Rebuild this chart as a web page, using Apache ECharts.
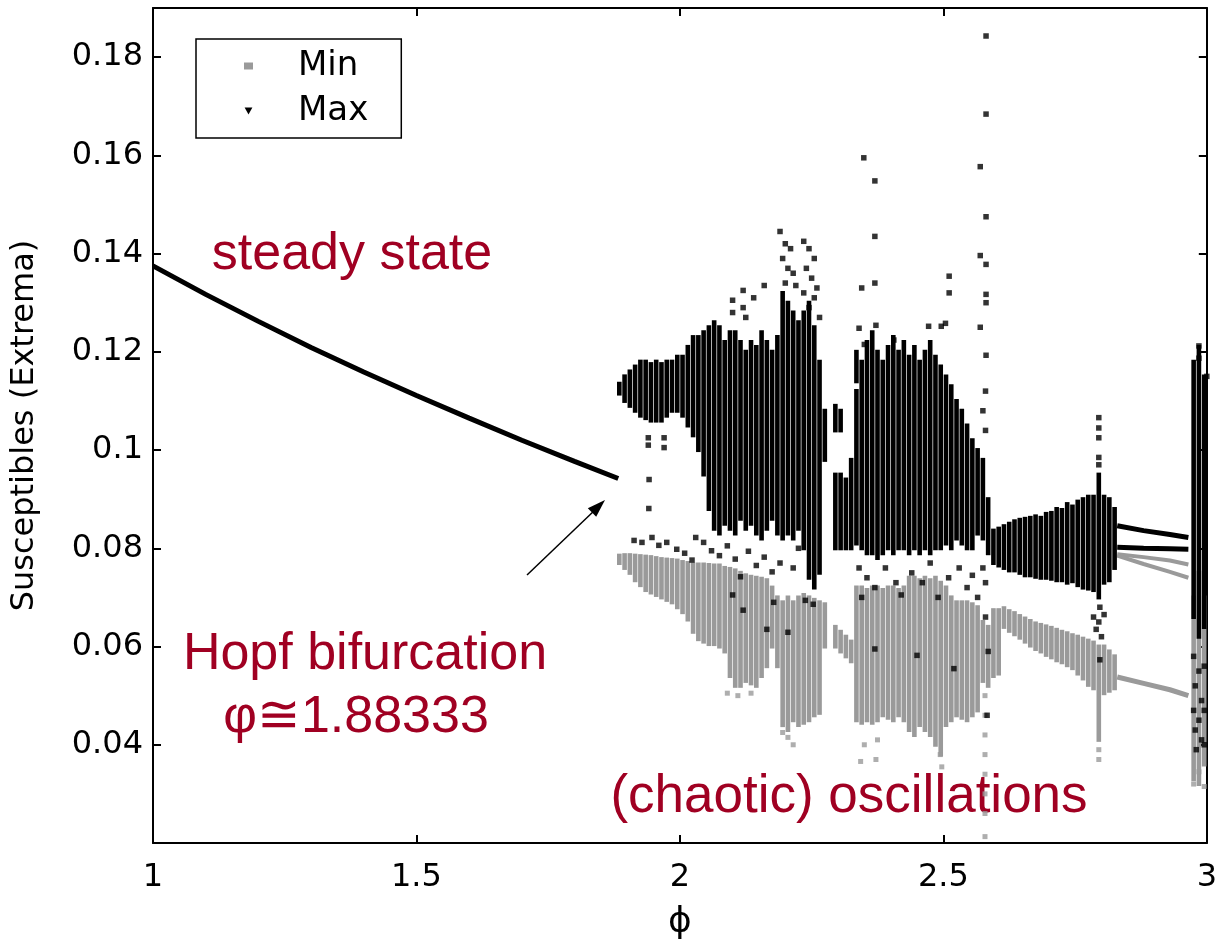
<!DOCTYPE html>
<html>
<head>
<meta charset="utf-8">
<script src="https://cdn.jsdelivr.net/npm/echarts@6/dist/echarts.min.js"></script>
<style>html,body{margin:0;padding:0;background:#fff;}#chart{width:1220px;height:946px;}</style>
</head>
<body>
<div id="chart"></div>
<script>
// ---- data ----
const xTicks = [1, 1.5, 2, 2.5, 3];
const yTicks = [0.04, 0.06, 0.08, 0.1, 0.12, 0.14, 0.16, 0.18];

// steady state branch (min = max)
const steadyX = [1.0, 1.1, 1.2, 1.3, 1.4, 1.5, 1.6, 1.7, 1.8, 1.883];
const steadyY = [0.1375, 0.1317, 0.1262, 0.1209, 0.1159, 0.1111, 0.1065, 0.1020, 0.0977, 0.0942];

// dense columns of maxima: [phi, low, high]
const maxCols = [
 [1.885,0.1115,0.1135],[1.895,0.110,0.115],[1.905,0.109,0.116],[1.915,0.108,0.117],[1.925,0.107,0.118],
 [1.935,0.1065,0.118],[1.945,0.106,0.1175],[1.955,0.106,0.118],[1.965,0.106,0.1175],[1.975,0.107,0.118],
 [1.985,0.108,0.118],[1.995,0.108,0.119],[2.005,0.107,0.119],[2.015,0.105,0.121],[2.025,0.103,0.123],
 [2.035,0.100,0.123],[2.045,0.095,0.124],[2.055,0.088,0.125],[2.065,0.084,0.126],[2.075,0.083,0.125],
 [2.085,0.085,0.122],[2.095,0.084,0.124],[2.105,0.083,0.124],[2.115,0.086,0.122],[2.125,0.084,0.120],
 [2.135,0.085,0.122],[2.145,0.083,0.121],[2.155,0.082,0.124],[2.165,0.084,0.122],[2.175,0.086,0.120],
 [2.185,0.083,0.123],[2.195,0.082,0.132],[2.205,0.083,0.130],[2.215,0.082,0.128],[2.225,0.084,0.126],
 [2.235,0.080,0.128],[2.245,0.074,0.130],[2.255,0.072,0.125],[2.265,0.075,0.118],[2.275,0.098,0.108],
 [2.295,0.080,0.095],[2.295,0.104,0.109],[2.305,0.080,0.095],[2.305,0.104,0.108],[2.315,0.080,0.094],
 [2.325,0.080,0.098],[2.335,0.081,0.112],[2.335,0.114,0.120],[2.345,0.080,0.118],[2.355,0.079,0.122],
 [2.365,0.079,0.124],[2.375,0.078,0.120],[2.385,0.079,0.118],[2.395,0.080,0.121],[2.405,0.079,0.123],
 [2.415,0.080,0.120],[2.425,0.080,0.122],[2.435,0.079,0.119],[2.445,0.080,0.121],[2.455,0.079,0.118],
 [2.465,0.080,0.120],[2.475,0.079,0.122],[2.485,0.080,0.119],[2.495,0.080,0.117],[2.505,0.081,0.115],
 [2.515,0.080,0.113],[2.525,0.082,0.110],[2.535,0.081,0.108],[2.545,0.080,0.105],[2.555,0.080,0.102],
 [2.565,0.083,0.100],[2.575,0.082,0.098],[2.585,0.079,0.090],
 [2.595,0.0770,0.0836],[2.605,0.0765,0.0840],[2.615,0.0760,0.0845],[2.625,0.0755,0.0850],[2.635,0.0755,0.0855],
 [2.645,0.0750,0.0858],[2.655,0.0745,0.0860],[2.665,0.0745,0.0862],[2.675,0.0742,0.0865],[2.685,0.0740,0.0862],
 [2.695,0.0740,0.0870],[2.705,0.0738,0.0872],[2.715,0.0735,0.0880],[2.725,0.0735,0.0878],[2.735,0.0730,0.0890],
 [2.745,0.0733,0.0885],[2.755,0.0725,0.0895],[2.765,0.0720,0.0900],[2.775,0.0718,0.0905],[2.785,0.0715,0.0905],
 [2.795,0.0700,0.0950],[2.805,0.0730,0.0905],[2.815,0.0735,0.0900],[2.825,0.0760,0.0880],
 [2.975,0.066,0.118],[2.985,0.062,0.121],[2.995,0.064,0.115]
];

// dense columns of minima: [phi, low, high]
const minCols = [
 [1.885,0.0770,0.0785],[1.895,0.0760,0.0786],[1.905,0.0750,0.0786],[1.915,0.0735,0.0785],[1.925,0.0725,0.0784],
 [1.935,0.0715,0.0783],[1.945,0.0710,0.0782],[1.955,0.0705,0.0780],[1.965,0.0700,0.0778],[1.975,0.0695,0.0777],
 [1.985,0.0690,0.0776],[1.995,0.0680,0.0775],[2.005,0.0670,0.0772],[2.015,0.0655,0.0770],[2.025,0.0630,0.0767],
 [2.035,0.0615,0.0767],[2.045,0.0610,0.0767],[2.055,0.0605,0.0766],[2.065,0.0605,0.0765],[2.075,0.0600,0.0765],
 [2.085,0.0590,0.0760],[2.095,0.0540,0.0758],[2.105,0.0520,0.0755],[2.115,0.0520,0.0750],[2.125,0.0530,0.0745],
 [2.135,0.0525,0.0742],[2.145,0.0520,0.0740],[2.155,0.0540,0.0738],[2.165,0.0560,0.0735],[2.175,0.0600,0.0720],
 [2.185,0.0560,0.0700],[2.195,0.0440,0.0690],[2.205,0.0430,0.0700],[2.215,0.0450,0.0690],[2.225,0.0440,0.0700],
 [2.235,0.0445,0.0705],[2.245,0.0450,0.0700],[2.255,0.0460,0.0695],[2.265,0.0465,0.0690],[2.275,0.0600,0.0686],
 [2.295,0.0600,0.0640],[2.305,0.0590,0.0630],[2.315,0.0580,0.0620],[2.325,0.0570,0.0610],[2.335,0.0450,0.0720],
 [2.345,0.0445,0.0720],[2.355,0.0450,0.0715],[2.365,0.0445,0.0720],[2.375,0.0450,0.0720],[2.385,0.0460,0.0715],
 [2.395,0.0455,0.0720],[2.405,0.0450,0.0720],[2.415,0.0460,0.0715],[2.425,0.0450,0.0720],[2.435,0.0430,0.0740],
 [2.445,0.0420,0.0740],[2.455,0.0440,0.0735],[2.465,0.0430,0.0740],[2.475,0.0420,0.0735],[2.485,0.0400,0.0740],
 [2.495,0.0380,0.0730],[2.505,0.0440,0.0720],[2.515,0.0450,0.0700],[2.525,0.0460,0.0690],[2.535,0.0455,0.0690],
 [2.545,0.0450,0.0690],[2.555,0.0460,0.0686],[2.565,0.0470,0.0680],[2.575,0.0530,0.0650],[2.585,0.0520,0.0640],
 [2.595,0.0540,0.0674],[2.605,0.0545,0.0674],
 [2.615,0.0640,0.0678],[2.625,0.0632,0.0672],[2.635,0.0625,0.0668],[2.645,0.0618,0.0662],[2.655,0.0610,0.0657],
 [2.665,0.0602,0.0652],[2.675,0.0595,0.0647],[2.685,0.0590,0.0644],[2.695,0.0583,0.0641],[2.705,0.0578,0.0638],
 [2.715,0.0572,0.0634],[2.725,0.0568,0.0630],[2.735,0.0562,0.0627],[2.745,0.0556,0.0623],[2.755,0.0545,0.0620],
 [2.765,0.0535,0.0616],[2.775,0.0522,0.0612],[2.785,0.0515,0.0608],[2.795,0.0410,0.0600],[2.805,0.0505,0.0600],
 [2.815,0.0510,0.0590],[2.825,0.0515,0.0580],
 [2.975,0.033,0.070],[2.985,0.032,0.075],[2.995,0.036,0.070]
];

// isolated maxima [phi, value]
const maxPts = [
 [1.913,0.0816],[1.928,0.0812],[1.947,0.0822],[1.960,0.0806],[1.975,0.0812],[1.994,0.0798],[2.009,0.0790],[2.023,0.0776],
 [1.9415,0.094],[1.941,0.0881],[1.94,0.1025],[1.94,0.101],[1.97,0.1025],[1.97,0.1005],
 [2.03,0.0822],[2.045,0.0812],[2.06,0.0795],[2.075,0.0785],[2.09,0.0805],[2.105,0.0778],[2.115,0.0742],[2.13,0.0794],
 [2.145,0.0765],[2.16,0.0782],[2.175,0.0752],[2.165,0.0635],[2.178,0.0690],[2.205,0.0629],[2.215,0.0760],[2.238,0.0694],
 [2.253,0.0686],[2.225,0.0800],[2.19,0.0770],[2.12,0.0674],[2.10,0.0705],
 [2.10,0.1305],[2.10,0.128],[2.12,0.1325],[2.12,0.129],[2.125,0.127],[2.16,0.1335],[2.14,0.131],[2.19,0.1445],[2.20,0.142],
 [2.21,0.141],[2.195,0.139],[2.205,0.137],[2.215,0.136],[2.20,0.134],[2.22,0.1335],[2.235,0.1425],[2.245,0.141],[2.255,0.139],
 [2.24,0.137],[2.25,0.135],[2.26,0.133],[2.235,0.132],[2.255,0.131],[2.245,0.129],[2.265,0.127],
 [2.349,0.1595],[2.370,0.1548],[2.370,0.1435],[2.345,0.133],[2.370,0.134],[2.511,0.1354],[2.511,0.132],[2.472,0.1252],
 [2.496,0.1252],[2.581,0.1843],[2.581,0.1684],[2.570,0.1577],[2.581,0.1475],[2.570,0.1396],[2.581,0.1378],[2.581,0.1317],
 [2.581,0.130],[2.570,0.125],[2.581,0.1193],[2.58,0.112],[2.575,0.108],[2.58,0.104],
 [2.34,0.1248],[2.372,0.1254],[2.504,0.1258],[2.35,0.1215],[2.406,0.1224],
 [2.34,0.076],[2.345,0.0700],[2.355,0.0740],[2.37,0.0720],[2.37,0.0595],[2.39,0.0760],[2.41,0.0730],[2.42,0.0705],
 [2.44,0.0750],[2.45,0.0582],[2.46,0.0730],[2.475,0.0770],[2.49,0.0700],[2.51,0.0740],[2.52,0.0555],[2.53,0.0760],
 [2.545,0.0720],[2.555,0.0745],[2.565,0.0700],[2.575,0.0760],[2.58,0.0730],[2.58,0.0660],[2.585,0.0590],[2.583,0.0460],
 [2.795,0.1066],[2.795,0.1045],[2.795,0.1025],[2.795,0.0985],[2.795,0.097],[2.797,0.068],[2.795,0.065],[2.79,0.0635],
 [2.80,0.062],[2.797,0.0573],[2.785,0.0660],[2.805,0.0665],
 [2.975,0.058],[2.985,0.055],[2.995,0.056],[2.978,0.052],[2.99,0.049],[2.975,0.047],[2.985,0.045],[2.995,0.047],
 [2.978,0.043],[2.99,0.041],[2.98,0.039],[2.995,0.040],[2.985,0.1212],[2.985,0.1187],[3.0,0.115]
];

// isolated minima [phi, value]
const minPts = [
 [2.343,0.0366],[2.35,0.040],[2.372,0.037],[2.375,0.041],[2.494,0.038],[2.497,0.0355],[2.579,0.050],[2.579,0.046],
 [2.579,0.042],[2.579,0.038],[2.579,0.034],[2.579,0.030],[2.579,0.026],[2.579,0.0213],[2.205,0.0415],[2.215,0.040],
 [2.195,0.0425],[2.795,0.039],[2.795,0.037],[2.975,0.032],[2.985,0.0345],[2.995,0.0315],[2.09,0.0505],[2.11,0.050],[2.135,0.0505]
];

// period-doubled branches after phi ~ 2.83
const branchX = [2.83, 2.88, 2.93, 2.965];
const maxUpperY = [0.0846, 0.0836, 0.0828, 0.0822];
const maxLowerY = [0.0802, 0.0800, 0.0799, 0.0798];
const minUpperY = [0.0788, 0.0782, 0.0775, 0.0767];
const minMidY   = [0.0785, 0.0768, 0.0752, 0.0740];
const minLowerY = [0.0538, 0.0525, 0.0512, 0.0500];

// ---- chart ----
const GRAY = '#9a9a9a', BLACK = '#000000', RED = '#a00022';
const zip = (xs, ys) => xs.map((x, i) => [x, ys[i]]);

function bandSeries(name, data, color) {
  return {
    name, type: 'custom', data, z: color === BLACK ? 4 : 3,
    encode: { x: 0, y: [1, 2] },
    renderItem(params, api) {
      const x = api.value(0), lo = api.value(1), hi = api.value(2);
      const a = api.coord([x, hi]), b = api.coord([x, lo]);
      const w = 4.6;
      return { type: 'rect', shape: { x: a[0] - w / 2, y: a[1] - 2, width: w, height: Math.max(b[1] - a[1] + 4, 4) },
               style: { fill: color } };
    }
  };
}
function lineSeries(name, data, color, width, z) {
  return { name, type: 'line', data, showSymbol: false, symbol: 'none', z,
           lineStyle: { color, width }, itemStyle: { color }, silent: true, animation: false };
}

const axisFont = { fontFamily: 'DejaVu Sans', fontSize: 32, color: '#000' };
const chart = echarts.init(document.getElementById('chart'), null, { renderer: 'canvas' });
chart.setOption({
  animation: false,
  backgroundColor: '#fff',
  grid: { left: 153, right: 7, top: 8, bottom: 101, containLabel: false },
  xAxis: [
    { type: 'value', min: xTicks[0], max: xTicks[xTicks.length - 1], interval: 0.5,
      name: 'ϕ', nameLocation: 'middle', nameGap: 62,
      nameTextStyle: { fontFamily: 'DejaVu Sans', fontSize: 36, color: '#000' },
      axisLine: { lineStyle: { color: '#000', width: 2 } },
      axisTick: { inside: true, length: 8, lineStyle: { color: '#000', width: 2 } },
      axisLabel: Object.assign({ margin: 19, formatter: v => String(v) }, axisFont),
      splitLine: { show: false } },
    { type: 'value', position: 'top', min: xTicks[0], max: xTicks[xTicks.length - 1], interval: 0.5,
      axisLine: { show: true, lineStyle: { color: '#000', width: 2 } },
      axisTick: { inside: true, length: 8, lineStyle: { color: '#000', width: 2 } },
      axisLabel: { show: false }, splitLine: { show: false } }
  ],
  yAxis: [
    { type: 'value', min: 0.02, max: 0.19, interval: 0.02,
      name: 'Susceptibles (Extrema)', nameLocation: 'middle', nameGap: 112,
      nameTextStyle: { fontFamily: 'DejaVu Sans', fontSize: 32, color: '#000' },
      axisLine: { lineStyle: { color: '#000', width: 2 } },
      axisTick: { inside: true, length: 8, lineStyle: { color: '#000', width: 2 } },
      axisLabel: Object.assign({ margin: 10, showMinLabel: false, showMaxLabel: false,
        formatter: v => { const r = Math.round(v * 100) / 100; return yTicks.includes(r) ? String(r) : ''; } }, axisFont),
      splitLine: { show: false } },
    { type: 'value', position: 'right', min: 0.02, max: 0.19, interval: 0.02,
      axisLine: { show: true, lineStyle: { color: '#000', width: 2 } },
      axisTick: { inside: true, length: 8, lineStyle: { color: '#000', width: 2 } },
      axisLabel: { show: false }, splitLine: { show: false } }
  ],
  legend: {
    orient: 'vertical', left: 196, top: 39,
    padding: [10, 33, 10, 48],
    borderColor: '#000', borderWidth: 1.5, backgroundColor: '#fff',
    itemWidth: 9, itemHeight: 7, itemGap: 11, selectedMode: false,
    data: [
      { name: 'Min', icon: 'rect', itemStyle: { color: GRAY } },
      { name: 'Max', icon: 'path://M0,0L10,0L5,9Z', itemStyle: { color: BLACK } }
    ],
    formatter: n => '{t|' + n + '}',
    textStyle: { color: '#000', rich: { t: { fontFamily: 'DejaVu Sans', fontSize: 34, color: '#000', padding: [0, 0, 0, 40] } } }
  },
  series: [
    bandSeries('Min', minCols, GRAY),
    { name: 'Min', type: 'scatter', data: minPts, symbol: 'rect', symbolSize: 5, itemStyle: { color: GRAY }, z: 3 },
    lineSeries('Min', zip(branchX, minUpperY), GRAY, 4, 3),
    lineSeries('Min', zip(branchX, minMidY), GRAY, 4, 3),
    lineSeries('Min', zip(branchX, minLowerY), GRAY, 5, 3),
    bandSeries('Max', maxCols, BLACK),
    { name: 'Max', type: 'scatter', data: maxPts, symbol: 'rect', symbolSize: 5.5, itemStyle: { color: BLACK }, z: 4 },
    lineSeries('Max', zip(steadyX, steadyY), BLACK, 5, 4),
    lineSeries('Max', zip(branchX, maxUpperY), BLACK, 5, 4),
    lineSeries('Max', zip(branchX, maxLowerY), BLACK, 5, 4)
  ],
  graphic: [
    { type: 'text', x: 352, y: 255, style: { text: 'steady state', fontFamily: 'Liberation Sans, Arial', fontSize: 52, fill: RED, align: 'center', verticalAlign: 'middle' } },
    { type: 'text', x: 365, y: 655, style: { text: 'Hopf bifurcation', fontFamily: 'Liberation Sans, Arial', fontSize: 52, fill: RED, align: 'center', verticalAlign: 'middle' } },
    { type: 'text', x: 356, y: 718, style: { text: 'φ≅1.88333', fontFamily: 'Liberation Sans, Arial', fontSize: 52, fill: RED, align: 'center', verticalAlign: 'middle' } },
    { type: 'text', x: 849, y: 797, style: { text: '(chaotic) oscillations', fontFamily: 'Liberation Sans, Arial', fontSize: 53, fill: RED, align: 'center', verticalAlign: 'middle' } },
    { type: 'line', shape: { x1: 527, y1: 575, x2: 596, y2: 509 }, style: { stroke: '#000', lineWidth: 1.5 } },
    { type: 'polygon', shape: { points: [[605, 500], [596.2, 516.8], [587.8, 508.2]] }, style: { fill: '#000' } }
  ]
});
</script>
</body>
</html>
